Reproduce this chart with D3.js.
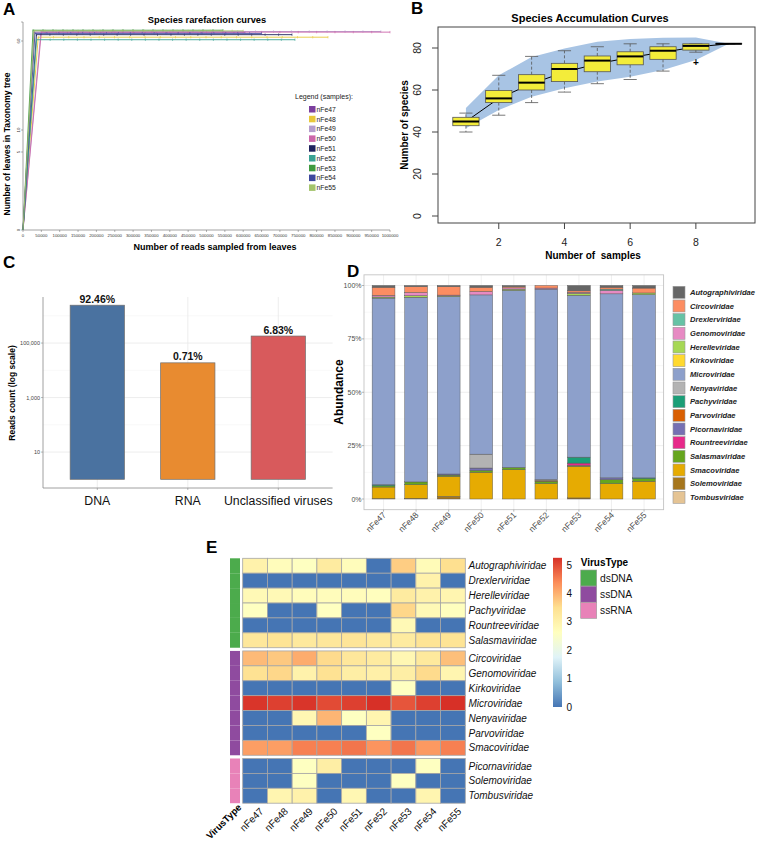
<!DOCTYPE html>
<html>
<head>
<meta charset="utf-8">
<script src="https://cdn.jsdelivr.net/npm/d3@7/dist/d3.min.js"></script>
<style>
html,body{margin:0;padding:0;background:#fff;}
svg{display:block;font-family:"Liberation Sans",Arial,Helvetica,sans-serif;}
</style>
</head>
<body>
<svg id="fig" width="759" height="845"></svg>
<script>
// ================= DATA =================
const samples = ["nFe47","nFe48","nFe49","nFe50","nFe51","nFe52","nFe53","nFe54","nFe55"];

// Panel A – rarefaction curves
const rareTotalReads = [605000, 831000, 975000, 1000000, 733000, 741000, 545000, 650000, 600000];
const rareLeaves     = [74, 66, 75, 74, 70, 62, 77, 72, 76];
const rareFractions  = [0.05,0.10,0.15,0.20,0.25,0.30,0.35,0.40,0.45,0.50,0.55,0.60,0.65,0.70,0.75,0.80,0.85,0.90,0.95,1.00];
const rareXTicks = [0,50000,100000,150000,200000,250000,300000,350000,400000,450000,500000,
                    550000,600000,650000,700000,750000,800000,850000,900000,950000,1000000];
const rareYTicks = [0,5,10,60];
const rareColors = ["#7b3f9e","#e8c83a","#b49ccc","#cc66aa","#1f225e","#3aa294","#3f9a3f","#3e479e","#a4c46c"];

// Panel B – species accumulation
const accSites   = [1,2,3,4,5,6,7,8,9];
const accQ1      = [43,54,60,64,68.7,72,74.6,79,82];
const accMedian  = [45,56,63.5,70,74,76,78.7,81,82];
const accQ3      = [47,59.8,67.3,72.7,76.2,78.2,80.6,82,82];
const accWhiskLo = [40,48,54,59,63,65,69,78,82];
const accWhiskHi = [49,67,76,78.7,80.6,82,82,82,82];
const accOutliers = [[8,73]];
const accRichness = [45,56,63,68.5,72.5,75.5,78,80.5,82];
const accUpper   = [51.4,67,75.7,79.8,83,84.3,84.9,85,82];
const accLower   = [41.8,50.5,56.8,60.8,64,66.3,69.5,74.3,82];
const accXTicks  = [2,4,6,8];
const accYTicks  = [0,20,40,60,80];

// Panel C – reads by type
const typeCats  = ["DNA","RNA","Unclassified viruses"];
const typeReads = [2450000, 18800, 181000];
const typePct   = ["92.46%","0.71%","6.83%"];
const typeColors = ["#4a72a0","#e88b30","#d85a5c"];
const readTicks = [10, 1000, 100000];
const readTickLabels = ["10","1,000","100,000"];
const readMinor = [100, 10000, 1000000];

// Panel D – family abundance (%)
const families = ["Autographiviridae","Circoviridae","Drexlerviridae","Genomoviridae","Herelleviridae",
  "Kirkoviridae","Microviridae","Nenyaviridae","Pachyviridae","Parvoviridae","Picornaviridae",
  "Rountreeviridae","Salasmaviridae","Smacoviridae","Solemoviridae","Tombusviridae"];
const familyColors = ["#666666","#fc8d62","#66c2a5","#e78ac3","#a6d854","#ffd92f","#8da0cb","#b3b3b3",
  "#1b9e77","#d95f02","#7570b3","#e7298a","#66a61e","#e6ab02","#a6761d","#e5c494"];
// rows = samples, columns = families (same order as above)
const abundance = [
  [0.8,3.8,0,0.8,0.5,0,87.4,0,0.5,0,0,0,0.6,5.4,0.2,0],
  [0.5,2.8,0,1.5,0.7,0,86.5,0,0,0,0,0,1.3,6.4,0.3,0],
  [0.5,4.0,0,0.3,0.3,0,83.2,0,0,0,0.5,0,0.6,9.4,1.2,0],
  [0.8,2.0,0,1.6,0,0,74.6,6.5,0,0,1.1,0,0.9,12.5,0,0],
  [0.5,0.6,0,0.6,0.6,0,82.9,0,0,0,0,0,1.1,13.7,0,0],
  [0,1.2,0,0.5,0,0,89.2,0.4,0,0.4,0,0,1.1,7.2,0,0],
  [2.5,0.7,0,0.5,0.9,0,75.8,0,2.8,0,0,1.1,0.4,14.8,0.5,0],
  [0.8,0.9,0.6,1.6,0,0,86.2,0,0,0,0.8,0,1.9,7.2,0,0],
  [1.2,2.3,0,0,0.8,0,85.8,0,0.4,0,0,0,1.2,8.3,0,0]
];
const abundTicks = [0,0.25,0.5,0.75,1];
const abundTickLabels = ["0%","25%","50%","75%","100%"];

// Panel E – heatmap (log10 reads)
const heatRows = ["Autographiviridae","Drexlerviridae","Herelleviridae","Pachyviridae","Rountreeviridae","Salasmaviridae",
  "Circoviridae","Genomoviridae","Kirkoviridae","Microviridae","Nenyaviridae","Parvoviridae","Smacoviridae",
  "Picornaviridae","Solemoviridae","Tombusviridae"];
const heatRowType = ["dsDNA","dsDNA","dsDNA","dsDNA","dsDNA","dsDNA",
  "ssDNA","ssDNA","ssDNA","ssDNA","ssDNA","ssDNA","ssDNA","ssRNA","ssRNA","ssRNA"];
const heatValues = [
  [3.0,2.7,2.6,3.2,2.7,0,3.7,2.75,3.5],
  [0,0,0,0,0,0,0,3.0,0],
  [2.8,2.8,2.7,2.7,2.7,2.65,3.2,3.0,2.9],
  [2.6,0,0,2.6,0,0,3.6,2.8,2.65],
  [0,0,0,0,0,0,2.8,0,0],
  [3.3,3.4,3.25,3.3,3.35,3.25,3.2,3.4,3.4],
  [3.9,3.75,4.05,3.55,3.3,3.2,2.85,3.25,3.85],
  [3.45,3.6,3.0,3.45,3.1,3.05,3.1,3.55,2.9],
  [0,0,0,0,0,0,2.6,0,0],
  [5.2,5.1,5.2,5.0,5.1,5.25,4.9,5.1,5.25],
  [0,0,2.85,3.95,2.6,2.9,0,0,0],
  [0,0,0,0,0,2.6,0,0,0],
  [4.2,4.2,4.5,4.5,4.6,4.3,4.6,4.25,4.5],
  [0,0,2.6,3.1,0,0,0,2.6,0],
  [0,0,2.6,0,0,0,2.6,0,0],
  [0,2.9,3.0,0,2.85,0,0,2.9,0]
];
const virusTypes = ["dsDNA","ssDNA","ssRNA"];
const virusTypeColors = ["#4cab4c","#8f4b9f","#e882b8"];
const heatPalette = ["#4575b4","#91bfdb","#e0f3f8","#ffffbf","#fee090","#fc8d59","#d73027"];
const heatLegendTicks = [0,1,2,3,4,5];

// ================= DRAW =================
const svg = d3.select("#fig");
svg.append("rect").attr("width",759).attr("height",845).attr("fill","#fff");

function label(g, x, y, s, o = {}) {
  const t = g.append("text").attr("x", x).attr("y", y).text(s)
    .attr("font-size", o.size || 10)
    .attr("fill", o.fill || "#000")
    .attr("text-anchor", o.anchor || "start");
  if (o.weight) t.attr("font-weight", o.weight);
  if (o.style) t.attr("font-style", o.style);
  if (o.rotate !== undefined) t.attr("transform", `rotate(${o.rotate},${x},${y})`);
  if (o.pre) t.style("white-space", "pre");
  return t;
}

// Panel letters
[["A",3,15],["B",411,14],["C",3,268],["D",347,277],["E",206,553]].forEach(([l,x,y]) =>
  label(svg, x, y, l, {size:17, weight:"bold"}));

// ---------- Panel A ----------
{
  const g = svg.append("g");
  const x = d3.scaleLinear().domain([0,1000000]).range([23,390]);
  const y = d3.scaleLinear().domain([0,5,10,60,90]).range([230,152,130,41,22]);
  label(g, 207, 23, "Species rarefaction curves", {size:9.3, weight:"bold", anchor:"middle"});
  g.append("line").attr("x1",x(0)).attr("x2",x(0)).attr("y1",y(90)).attr("y2",y(0)).attr("stroke","#666").attr("stroke-width",0.6);
  g.append("line").attr("x1",x(0)).attr("x2",x(1000000)).attr("y1",y(0)).attr("y2",y(0)).attr("stroke","#666").attr("stroke-width",0.6);
  rareXTicks.forEach(t => {
    g.append("line").attr("x1",x(t)).attr("x2",x(t)).attr("y1",y(0)).attr("y2",y(0)+2).attr("stroke","#666").attr("stroke-width",0.5);
    label(g, x(t), y(0)+6.5, String(t), {size:4.3, anchor:"middle", fill:"#333"});
  });
  [...rareYTicks, 90].forEach(t => {
    g.append("line").attr("x1",x(0)-2).attr("x2",x(0)).attr("y1",y(t)).attr("y2",y(t)).attr("stroke","#666").attr("stroke-width",0.5);
  });
  rareYTicks.forEach(t => label(g, 19.5, y(t), String(t), {size:4.3, anchor:"middle", fill:"#333", rotate:-90}));
  label(g, 10, 144, "Number of leaves in Taxonomy tree", {size:8.5, weight:"bold", anchor:"middle", rotate:-90});
  label(g, 215, 250, "Number of reads sampled from leaves", {size:9, weight:"bold", anchor:"middle"});

  const line = d3.line().x(d => x(d[0])).y(d => y(d[1]));
  samples.forEach((s, i) => {
    const pts = [[0,0]].concat(rareFractions.map(f => [f * rareTotalReads[i], rareLeaves[i]]));
    g.append("path").attr("d", line(pts)).attr("fill","none").attr("stroke", rareColors[i]).attr("stroke-width",0.9);
    pts.slice(1).forEach(p => g.append("line").attr("x1",x(p[0])).attr("x2",x(p[0]))
      .attr("y1",y(p[1])-1.2).attr("y2",y(p[1])+1.2).attr("stroke",rareColors[i]).attr("stroke-width",0.6));
  });

  label(g, 295, 99, "Legend (samples):", {size:7, fill:"#222"});
  samples.forEach((s, i) => {
    const yy = 106 + i * 9.8;
    g.append("rect").attr("x",309).attr("y",yy).attr("width",6.5).attr("height",6.5).attr("fill",rareColors[i]);
    label(g, 316.5, yy + 5.8, s, {size:6.8, fill:"#222"});
  });
}

// ---------- Panel B ----------
{
  const g = svg.append("g");
  const x = d3.scaleLinear().domain([0.15, 9.8]).range([438, 755]);
  const y = d3.scaleLinear().domain([-3.33, 90]).range([223, 27]);
  label(g, 590, 22, "Species Accumulation Curves", {size:11, weight:"bold", anchor:"middle"});

  const area = d3.area().x((d,i) => x(accSites[i])).y0((d,i) => y(accLower[i])).y1((d,i) => y(accUpper[i]));
  g.append("path").attr("d", area(accSites)).attr("fill","#a8c4e4");

  const bw = 0.8;
  accSites.forEach((s, i) => {
    const dash = "3,2";
    g.append("line").attr("x1",x(s)).attr("x2",x(s)).attr("y1",y(accQ3[i])).attr("y2",y(accWhiskHi[i]))
      .attr("stroke","#555").attr("stroke-width",0.8).attr("stroke-dasharray",dash);
    g.append("line").attr("x1",x(s)).attr("x2",x(s)).attr("y1",y(accQ1[i])).attr("y2",y(accWhiskLo[i]))
      .attr("stroke","#555").attr("stroke-width",0.8).attr("stroke-dasharray",dash);
    [accWhiskHi[i], accWhiskLo[i]].forEach(v => g.append("line").attr("x1",x(s-bw/4)).attr("x2",x(s+bw/4))
      .attr("y1",y(v)).attr("y2",y(v)).attr("stroke","#555").attr("stroke-width",0.8));
  });
  g.append("path").attr("d", d3.line().x((d,i) => x(accSites[i])).y(d => y(d))(accRichness))
    .attr("fill","none").attr("stroke","#000").attr("stroke-width",1);
  accSites.forEach((s, i) => {
    g.append("rect").attr("x",x(s-bw/2)).attr("width",x(s+bw/2)-x(s-bw/2))
      .attr("y",y(accQ3[i])).attr("height",Math.max(0.01,y(accQ1[i])-y(accQ3[i])))
      .attr("fill","#f3ec3a").attr("stroke","#555").attr("stroke-width",0.8);
    g.append("line").attr("x1",x(s-bw/2)).attr("x2",x(s+bw/2)).attr("y1",y(accMedian[i])).attr("y2",y(accMedian[i]))
      .attr("stroke","#000").attr("stroke-width",2);
  });
  accOutliers.forEach(([s,v]) => label(g, x(s), y(v)+3.5, "+", {size:10, anchor:"middle", weight:"bold"}));

  g.append("rect").attr("x",438).attr("y",27).attr("width",317).attr("height",196).attr("fill","none").attr("stroke","#444").attr("stroke-width",1);
  accYTicks.forEach(t => {
    g.append("line").attr("x1",432).attr("x2",438).attr("y1",y(t)).attr("y2",y(t)).attr("stroke","#444");
    label(g, 421, y(t), String(t), {size:10.5, anchor:"middle", rotate:-90, fill:"#222"});
  });
  accXTicks.forEach(t => {
    g.append("line").attr("x1",x(t)).attr("x2",x(t)).attr("y1",223).attr("y2",229).attr("stroke","#444");
    label(g, x(t), 246, String(t), {size:10.5, anchor:"middle", fill:"#222"});
  });
  label(g, 593, 259, "Number of  samples", {size:10, weight:"bold", anchor:"middle", pre:true});
  label(g, 408, 125, "Number of species", {size:10, weight:"bold", anchor:"middle", rotate:-90});
}

// ---------- Panel C ----------
{
  const g = svg.append("g");
  const x = d3.scaleBand().domain(typeCats).range([43, 332.6]).paddingInner(0.4).paddingOuter(0.3);
  const y = d3.scaleLog().domain([0.48, 4.9e6]).range([488, 297]);
  readMinor.forEach(t => g.append("line").attr("x1",43).attr("x2",332.6).attr("y1",y(t)).attr("y2",y(t)).attr("stroke","#f3f3f3").attr("stroke-width",0.6));
  readTicks.forEach(t => g.append("line").attr("x1",43).attr("x2",332.6).attr("y1",y(t)).attr("y2",y(t)).attr("stroke","#e8e8e8").attr("stroke-width",0.8));
  typeCats.forEach(c => g.append("line").attr("x1",x(c)+x.bandwidth()/2).attr("x2",x(c)+x.bandwidth()/2).attr("y1",297).attr("y2",488).attr("stroke","#e8e8e8").attr("stroke-width",0.8));
  typeCats.forEach((c, i) => {
    g.append("rect").attr("x",x(c)).attr("width",x.bandwidth()).attr("y",y(typeReads[i])).attr("height",y(1)-y(typeReads[i]))
      .attr("fill",typeColors[i]).attr("stroke","#6e6e6e").attr("stroke-width",0.7);
    label(g, x(c)+x.bandwidth()/2, y(typeReads[i])-2.5, typePct[i], {size:10.5, weight:"bold", anchor:"middle", fill:"#111"});
    label(g, x(c)+x.bandwidth()/2, 504.5, c, {size:12.3, anchor:"middle", fill:"#111"});
  });
  g.append("line").attr("x1",43).attr("x2",43).attr("y1",297).attr("y2",488).attr("stroke","#888").attr("stroke-width",0.8);
  g.append("line").attr("x1",43).attr("x2",332.6).attr("y1",488).attr("y2",488).attr("stroke","#888").attr("stroke-width",0.8);
  readTicks.forEach((t, i) => {
    g.append("line").attr("x1",41).attr("x2",43).attr("y1",y(t)).attr("y2",y(t)).attr("stroke","#888").attr("stroke-width",0.6);
    label(g, 40, y(t)+2, readTickLabels[i], {size:5.5, anchor:"end", fill:"#444"});
  });
  typeCats.forEach(c => g.append("line").attr("x1",x(c)+x.bandwidth()/2).attr("x2",x(c)+x.bandwidth()/2).attr("y1",488).attr("y2",490).attr("stroke","#888").attr("stroke-width",0.6));
  label(g, 15, 393, "Reads count (log scale)", {size:8.5, weight:"bold", anchor:"middle", rotate:-90});
}

// ---------- Panel D ----------
{
  const g = svg.append("g");
  const x = d3.scaleBand().domain(samples).range([364, 663.6]).paddingInner(0.3).paddingOuter(0.25);
  const y = d3.scaleLinear().domain([0, 1]).range([499, 285.5]);
  const top = y(1.05), bot = y(-0.05);
  [0.125,0.375,0.625,0.875].forEach(t => g.append("line").attr("x1",364).attr("x2",663.6).attr("y1",y(t)).attr("y2",y(t)).attr("stroke","#f4f4f4").attr("stroke-width",0.6));
  abundTicks.forEach(t => g.append("line").attr("x1",364).attr("x2",663.6).attr("y1",y(t)).attr("y2",y(t)).attr("stroke","#ebebeb").attr("stroke-width",0.8));
  samples.forEach(s => g.append("line").attr("x1",x(s)+x.bandwidth()/2).attr("x2",x(s)+x.bandwidth()/2).attr("y1",top).attr("y2",bot).attr("stroke","#ebebeb").attr("stroke-width",0.8));

  const rows = samples.map((s, i) => { const o = {sample: s}; families.forEach((f, j) => o[f] = abundance[i][j] / 100); return o; });
  const stack = d3.stack().keys(families.slice().reverse())(rows);
  stack.forEach(layer => {
    const col = familyColors[families.indexOf(layer.key)];
    layer.forEach(d => {
      if (d[1] - d[0] <= 0) return;
      g.append("rect").attr("x", x(d.data.sample)).attr("width", x.bandwidth())
        .attr("y", y(d[1])).attr("height", y(d[0]) - y(d[1]))
        .attr("fill", col).attr("stroke", "#555").attr("stroke-width", 0.45);
    });
  });
  g.append("rect").attr("x",364).attr("y",top).attr("width",299.6).attr("height",bot-top).attr("fill","none").attr("stroke","#c4c4c4").attr("stroke-width",0.9);
  abundTicks.forEach((t, i) => {
    g.append("line").attr("x1",362).attr("x2",364).attr("y1",y(t)).attr("y2",y(t)).attr("stroke","#888").attr("stroke-width",0.6);
    label(g, 361.5, y(t)+2.5, abundTickLabels[i], {size:7, anchor:"end", fill:"#4d4d4d"});
  });
  samples.forEach(s => {
    const cx = x(s) + x.bandwidth()/2;
    g.append("line").attr("x1",cx).attr("x2",cx).attr("y1",bot).attr("y2",bot+2).attr("stroke","#888").attr("stroke-width",0.6);
    label(g, cx+3, bot+6, s, {size:8.5, anchor:"end", fill:"#4d4d4d", rotate:-45});
  });
  label(g, 343, 392, "Abundance", {size:12, weight:"bold", anchor:"middle", rotate:-90});
  families.forEach((f, i) => {
    const cy = 292.3 + i * 13.67;
    g.append("rect").attr("x",673).attr("y",cy-6).attr("width",12).attr("height",12)
      .attr("fill",familyColors[i]).attr("stroke","#9a9a9a").attr("stroke-width",0.6);
    label(g, 690, cy+2.8, f, {size:7.6, weight:"bold", style:"italic", fill:"#222"});
  });
}

// ---------- Panel E ----------
{
  const g = svg.append("g");
  const x = d3.scaleBand().domain(samples).range([242.7, 465.3]);
  const gap = 0.215;
  const slot = heatRows.map((r, i) => i + gap * virusTypes.indexOf(heatRowType[i]));
  const y = d3.scaleLinear().domain([0, heatRows.length + 2 * gap]).range([558.3, 803.2]);
  const rowH = y(1) - y(0);
  const maxV = d3.max(heatValues.flat());
  const color = d3.scaleLinear().domain(heatPalette.map((c, i) => i * maxV / (heatPalette.length - 1))).range(heatPalette).interpolate(d3.interpolateRgb);

  heatRows.forEach((r, i) => {
    const yy = y(slot[i]);
    samples.forEach((s, j) => {
      g.append("rect").attr("x", x(s)).attr("y", yy).attr("width", x.bandwidth()).attr("height", rowH)
        .attr("fill", color(heatValues[i][j])).attr("stroke", "#a6a6a6").attr("stroke-width", 0.8);
    });
    g.append("rect").attr("x", 230).attr("y", yy).attr("width", 10).attr("height", rowH)
      .attr("fill", virusTypeColors[virusTypes.indexOf(heatRowType[i])]);
    label(g, 468.5, yy + rowH/2 + 3.6, r, {size:10, style:"italic", fill:"#111"});
  });
  samples.forEach(s => label(g, x(s) + x.bandwidth()/2 + 9, 812, s, {size:10, anchor:"end", rotate:-45, fill:"#111"}));
  label(g, 242, 808, "VirusType", {size:9.5, weight:"bold", anchor:"end", rotate:-45});

  // colour legend
  const ly = d3.scaleLinear().domain([0, maxV]).range([707, 557.8]);
  const grad = svg.append("defs").append("linearGradient").attr("id","hg").attr("x1",0).attr("x2",0).attr("y1",1).attr("y2",0);
  heatPalette.forEach((c, i) => grad.append("stop").attr("offset", i/(heatPalette.length-1)).attr("stop-color", c));
  g.append("rect").attr("x",553).attr("y",ly(maxV)).attr("width",9).attr("height",ly(0)-ly(maxV)).attr("fill","url(#hg)");
  heatLegendTicks.forEach(t => label(g, 566.5, ly(t)+3.6, String(t), {size:10, fill:"#111"}));

  label(g, 580.7, 566, "VirusType", {size:10, weight:"bold"});
  virusTypes.forEach((v, i) => {
    const yy = 570 + i * 16.2;
    g.append("rect").attr("x",580.7).attr("y",yy).attr("width",16).attr("height",16)
      .attr("fill",virusTypeColors[i]).attr("stroke","#999").attr("stroke-width",0.6);
    label(g, 600, yy + 12, v, {size:10.3, fill:"#111"});
  });
}
</script>
</body>
</html>
